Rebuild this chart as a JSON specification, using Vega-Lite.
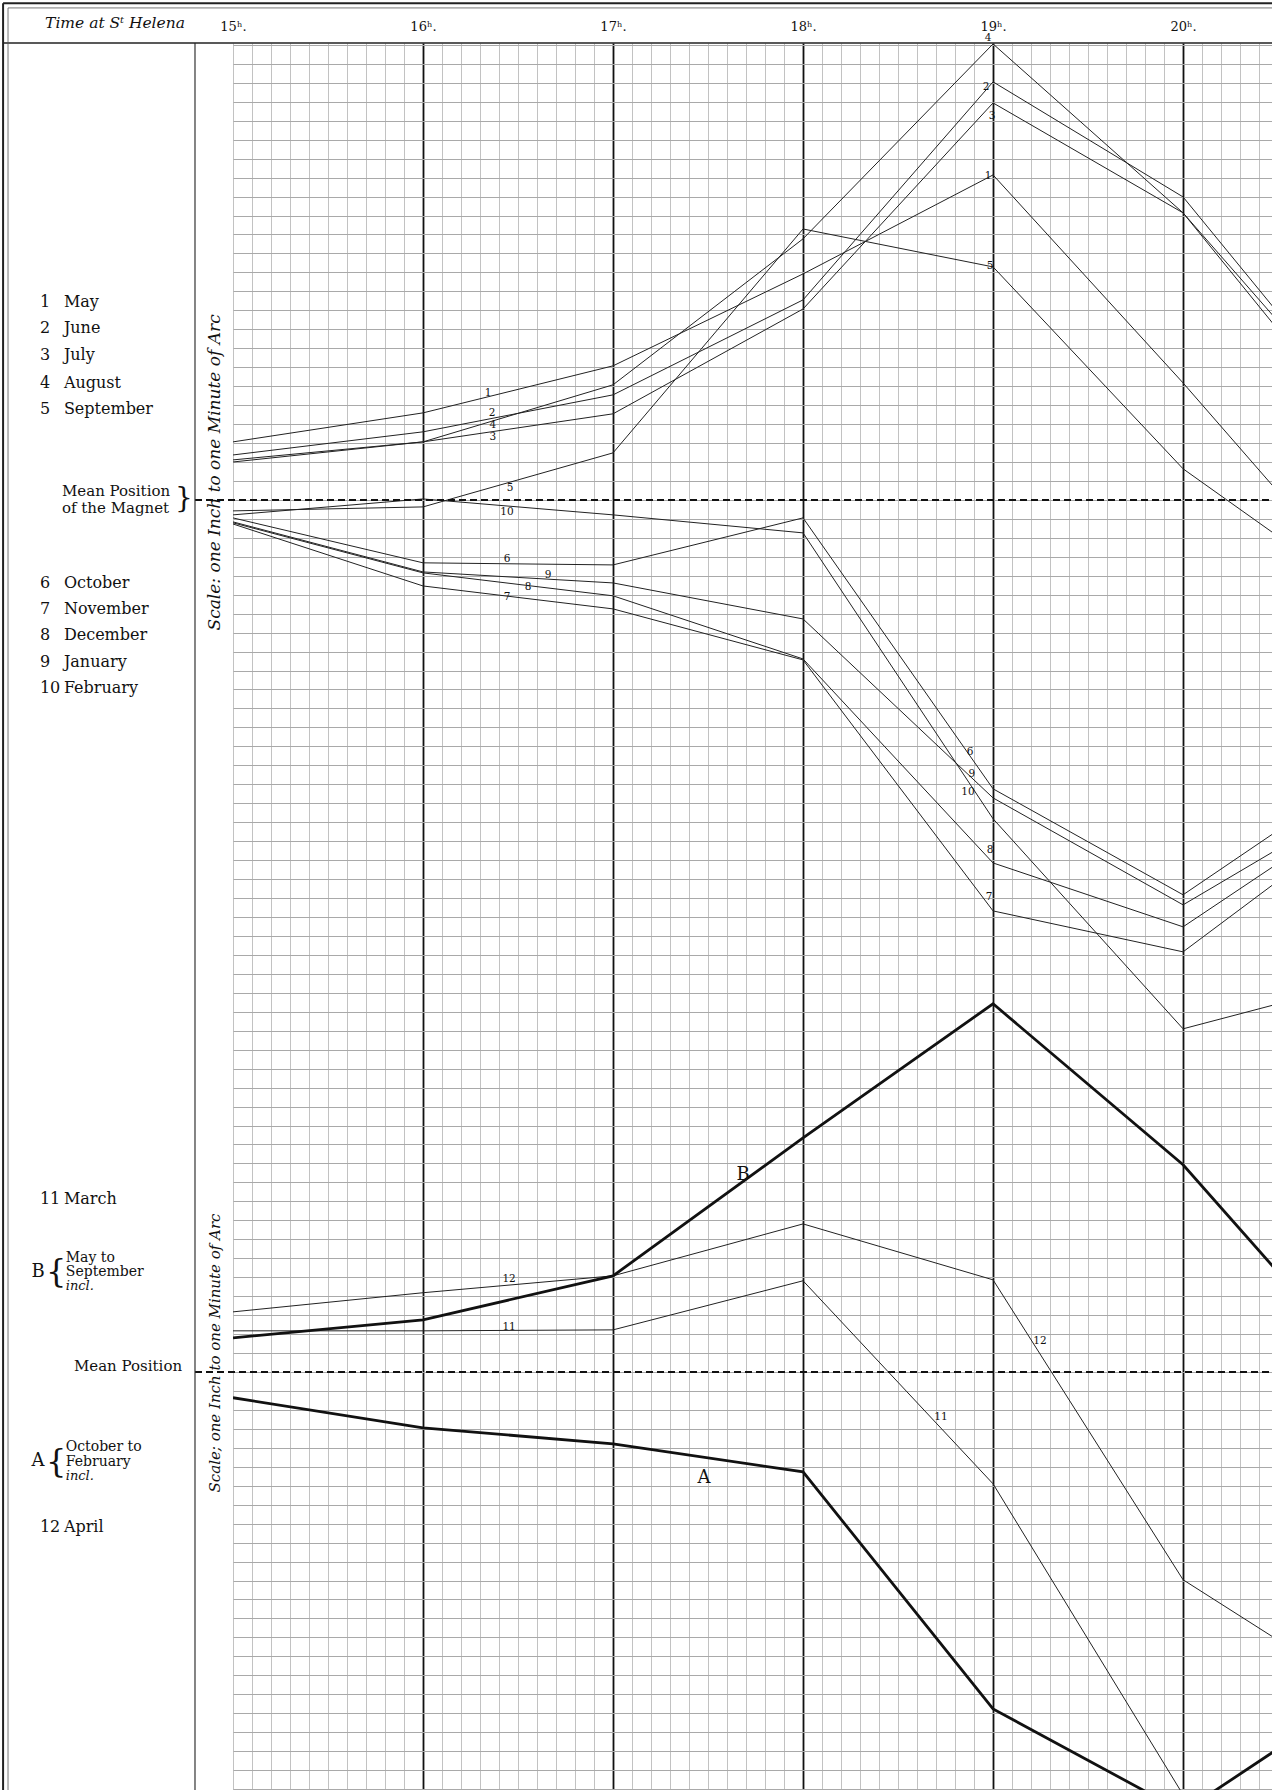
{
  "$schema": "https://vega.github.io/schema/vega-lite/v6.json",
  "width": 1039,
  "height": 1747,
  "autosize": {"type": "none"},
  "padding": {"left": 233, "top": 43, "right": 0, "bottom": 0},
  "background": "white",
  "config": {"view": {"stroke": null}, "text": {"font": "DejaVu Serif", "color": "#111111"}},
  "datasets": {
    "readings": [
      {"series": "1", "group": "month", "hour": 15, "dev": 3.06}, {"series": "1", "group": "month", "hour": 16, "dev": 4.59}, {"series": "1", "group": "month", "hour": 17, "dev": 7.07}, {"series": "1", "group": "month", "hour": 18, "dev": 11.92}, {"series": "1", "group": "month", "hour": 19, "dev": 17.14}, {"series": "1", "group": "month", "hour": 20, "dev": 6.17}, {"series": "1", "group": "month", "hour": 21, "dev": -5.33},
      {"series": "2", "group": "month", "hour": 15, "dev": 2.37}, {"series": "2", "group": "month", "hour": 16, "dev": 3.59}, {"series": "2", "group": "month", "hour": 17, "dev": 5.54}, {"series": "2", "group": "month", "hour": 18, "dev": 10.55}, {"series": "2", "group": "month", "hour": 19, "dev": 22.05}, {"series": "2", "group": "month", "hour": 20, "dev": 15.98}, {"series": "2", "group": "month", "hour": 21, "dev": 3.74},
      {"series": "3", "group": "month", "hour": 15, "dev": 2.0}, {"series": "3", "group": "month", "hour": 16, "dev": 3.06}, {"series": "3", "group": "month", "hour": 17, "dev": 4.54}, {"series": "3", "group": "month", "hour": 18, "dev": 10.07}, {"series": "3", "group": "month", "hour": 19, "dev": 20.94}, {"series": "3", "group": "month", "hour": 20, "dev": 15.14}, {"series": "3", "group": "month", "hour": 21, "dev": 3.69},
      {"series": "4", "group": "month", "hour": 15, "dev": 2.11}, {"series": "4", "group": "month", "hour": 16, "dev": 3.06}, {"series": "4", "group": "month", "hour": 17, "dev": 6.07}, {"series": "4", "group": "month", "hour": 18, "dev": 13.77}, {"series": "4", "group": "month", "hour": 19, "dev": 24.05}, {"series": "4", "group": "month", "hour": 20, "dev": 15.14}, {"series": "4", "group": "month", "hour": 21, "dev": 2.8},
      {"series": "5", "group": "month", "hour": 15, "dev": -0.58}, {"series": "5", "group": "month", "hour": 16, "dev": -0.37}, {"series": "5", "group": "month", "hour": 17, "dev": 2.48}, {"series": "5", "group": "month", "hour": 18, "dev": 14.29}, {"series": "5", "group": "month", "hour": 19, "dev": 12.29}, {"series": "5", "group": "month", "hour": 20, "dev": 1.64}, {"series": "5", "group": "month", "hour": 21, "dev": -5.49},
      {"series": "6", "group": "month", "hour": 15, "dev": -0.95}, {"series": "6", "group": "month", "hour": 16, "dev": -3.32}, {"series": "6", "group": "month", "hour": 17, "dev": -3.43}, {"series": "6", "group": "month", "hour": 18, "dev": -0.95}, {"series": "6", "group": "month", "hour": 19, "dev": -15.24}, {"series": "6", "group": "month", "hour": 20, "dev": -20.83}, {"series": "6", "group": "month", "hour": 21, "dev": -14.03},
      {"series": "7", "group": "month", "hour": 15, "dev": -1.27}, {"series": "7", "group": "month", "hour": 16, "dev": -4.54}, {"series": "7", "group": "month", "hour": 17, "dev": -5.75}, {"series": "7", "group": "month", "hour": 18, "dev": -8.44}, {"series": "7", "group": "month", "hour": 19, "dev": -21.68}, {"series": "7", "group": "month", "hour": 20, "dev": -23.84}, {"series": "7", "group": "month", "hour": 21, "dev": -16.35},
      {"series": "8", "group": "month", "hour": 15, "dev": -1.21}, {"series": "8", "group": "month", "hour": 16, "dev": -3.85}, {"series": "8", "group": "month", "hour": 17, "dev": -5.06}, {"series": "8", "group": "month", "hour": 18, "dev": -8.39}, {"series": "8", "group": "month", "hour": 19, "dev": -19.15}, {"series": "8", "group": "month", "hour": 20, "dev": -22.52}, {"series": "8", "group": "month", "hour": 21, "dev": -15.82},
      {"series": "9", "group": "month", "hour": 15, "dev": -1.16}, {"series": "9", "group": "month", "hour": 16, "dev": -3.8}, {"series": "9", "group": "month", "hour": 17, "dev": -4.38}, {"series": "9", "group": "month", "hour": 18, "dev": -6.28}, {"series": "9", "group": "month", "hour": 19, "dev": -15.72}, {"series": "9", "group": "month", "hour": 20, "dev": -21.36}, {"series": "9", "group": "month", "hour": 21, "dev": -15.45},
      {"series": "10", "group": "month", "hour": 15, "dev": -0.79}, {"series": "10", "group": "month", "hour": 16, "dev": 0.05}, {"series": "10", "group": "month", "hour": 17, "dev": -0.79}, {"series": "10", "group": "month", "hour": 18, "dev": -1.74}, {"series": "10", "group": "month", "hour": 19, "dev": -16.82}, {"series": "10", "group": "month", "hour": 20, "dev": -27.9}, {"series": "10", "group": "month", "hour": 21, "dev": -25.26},
      {"series": "11", "group": "month", "hour": 15, "dev": -43.83}, {"series": "11", "group": "month", "hour": 16, "dev": -43.83}, {"series": "11", "group": "month", "hour": 17, "dev": -43.78}, {"series": "11", "group": "month", "hour": 18, "dev": -41.19}, {"series": "11", "group": "month", "hour": 19, "dev": -51.9}, {"series": "11", "group": "month", "hour": 20, "dev": -68.3},
      {"series": "12", "group": "month", "hour": 15, "dev": -42.83}, {"series": "12", "group": "month", "hour": 16, "dev": -41.82}, {"series": "12", "group": "month", "hour": 17, "dev": -40.93}, {"series": "12", "group": "month", "hour": 18, "dev": -38.19}, {"series": "12", "group": "month", "hour": 19, "dev": -41.14}, {"series": "12", "group": "month", "hour": 20, "dev": -56.96}, {"series": "12", "group": "month", "hour": 21, "dev": -63.34},
      {"series": "B", "group": "season", "hour": 15, "dev": -44.2}, {"series": "B", "group": "season", "hour": 16, "dev": -43.25}, {"series": "B", "group": "season", "hour": 17, "dev": -40.93}, {"series": "B", "group": "season", "hour": 18, "dev": -33.65}, {"series": "B", "group": "season", "hour": 19, "dev": -26.58}, {"series": "B", "group": "season", "hour": 20, "dev": -35.07}, {"series": "B", "group": "season", "hour": 21, "dev": -46.41},
      {"series": "A", "group": "season", "hour": 15, "dev": -47.36}, {"series": "A", "group": "season", "hour": 16, "dev": -48.95}, {"series": "A", "group": "season", "hour": 17, "dev": -49.79}, {"series": "A", "group": "season", "hour": 18, "dev": -51.27}, {"series": "A", "group": "season", "hour": 19, "dev": -63.77}, {"series": "A", "group": "season", "hour": 20, "dev": -69.2}, {"series": "A", "group": "season", "hour": 21, "dev": -62.55}
    ],
    "means": [{"name": "Mean Position of the Magnet", "dev": 0}, {"name": "Mean Position", "dev": -46}],
    "legend": [
      {"num": "1", "name": "May", "dev": 10.44}, {"num": "2", "name": "June", "dev": 9.07}, {"num": "3", "name": "July", "dev": 7.62}, {"num": "4", "name": "August", "dev": 6.17}, {"num": "5", "name": "September", "dev": 4.8},
      {"num": "6", "name": "October", "dev": -4.38}, {"num": "7", "name": "November", "dev": -5.75}, {"num": "8", "name": "December", "dev": -7.12}, {"num": "9", "name": "January", "dev": -8.54}, {"num": "10", "name": "February", "dev": -9.92},
      {"num": "11", "name": "March", "dev": -36.87}, {"num": "12", "name": "April", "dev": -54.17}
    ],
    "linelabels": [
      {"text": "1", "hour": 16.342, "dev": 5.64}, {"text": "2", "hour": 16.363, "dev": 4.59}, {"text": "4", "hour": 16.368, "dev": 3.96}, {"text": "3", "hour": 16.368, "dev": 3.32}, {"text": "5", "hour": 16.458, "dev": 0.63}, {"text": "10", "hour": 16.442, "dev": -0.63},
      {"text": "6", "hour": 16.442, "dev": -3.11}, {"text": "9", "hour": 16.658, "dev": -3.96}, {"text": "8", "hour": 16.553, "dev": -4.59}, {"text": "7", "hour": 16.442, "dev": -5.12},
      {"text": "4", "hour": 18.974, "dev": 24.37}, {"text": "2", "hour": 18.963, "dev": 21.78}, {"text": "3", "hour": 18.995, "dev": 20.25}, {"text": "1", "hour": 18.974, "dev": 17.09}, {"text": "5", "hour": 18.984, "dev": 12.34},
      {"text": "6", "hour": 18.879, "dev": -13.29}, {"text": "9", "hour": 18.889, "dev": -14.45}, {"text": "10", "hour": 18.868, "dev": -15.4}, {"text": "8", "hour": 18.984, "dev": -18.46}, {"text": "7", "hour": 18.979, "dev": -20.94},
      {"text": "12", "hour": 16.453, "dev": -41.09}, {"text": "11", "hour": 16.453, "dev": -43.62}, {"text": "12", "hour": 19.247, "dev": -44.36}, {"text": "11", "hour": 18.726, "dev": -48.36}
    ],
    "biglabels": [
      {"text": "B", "hour": 17.684, "dev": -35.6}, {"text": "A", "hour": 17.479, "dev": -51.58},
      {"text": "B", "hour": 13.974, "dev": -40.72}, {"text": "A", "hour": 13.974, "dev": -50.69}
    ],
    "notes": [
      {"text": "Mean Position", "dev": 0.47}, {"text": "of the Magnet", "dev": -0.42}
    ],
    "groupnotes": [
      {"text": "May to", "dev": -39.98}, {"text": "September", "dev": -40.72},
      {"text": "October to", "dev": -49.95}, {"text": "February", "dev": -50.74}
    ],
    "inclnotes": [{"text": "incl.", "dev": -41.45}, {"text": "incl.", "dev": -51.5}],
    "braces": [{"text": "{", "dev": -40.72}, {"text": "{", "dev": -50.74}],
    "scaleupper": [{"text": "Scale: one Inch to one Minute of Arc", "dev": 1.45}],
    "scalelower": [{"text": "Scale; one Inch to one Minute of Arc", "dev": -45.0}]
  },
  "layer": [
    {
      "data": {"name": "readings"},
      "transform": [{"filter": "datum.group == 'month'"}],
      "mark": {"type": "line", "color": "#222222", "strokeWidth": 1, "clip": true},
      "encoding": {
        "x": {
          "field": "hour", "type": "quantitative",
          "scale": {"domain": [15, 20.468], "nice": false, "zero": false},
          "axis": {
            "orient": "top", "title": null, "ticks": false, "domain": false, "tickCount": 1000,
            "values": [15, 15.1, 15.2, 15.3, 15.4, 15.5, 15.6, 15.7, 15.8, 15.9, 16, 16.1, 16.2, 16.3, 16.4, 16.5, 16.6, 16.7, 16.8, 16.9, 17, 17.1, 17.2, 17.3, 17.4, 17.5, 17.6, 17.7, 17.8, 17.9, 18, 18.1, 18.2, 18.3, 18.4, 18.5, 18.6, 18.7, 18.8, 18.9, 19, 19.1, 19.2, 19.3, 19.4, 19.5, 19.6, 19.7, 19.8, 19.9, 20, 20.1, 20.2, 20.3, 20.4],
            "grid": true,
            "gridColor": {"condition": {"test": "abs(datum.value - round(datum.value)) < 0.01 && datum.value > 15.5", "value": "#111111"}, "value": "#c2c2c2"},
            "gridWidth": {"condition": {"test": "abs(datum.value - round(datum.value)) < 0.01 && datum.value > 15.5", "value": 1.8}, "value": 1},
            "labelExpr": "abs(datum.value - round(datum.value)) < 0.01 ? round(datum.value) + 'ʰ.' : ''",
            "labelOverlap": false, "labelFlush": false, "labelFont": "DejaVu Serif", "labelFontSize": 13, "labelColor": "#111111", "labelPadding": 10
          }
        },
        "y": {
          "field": "dev", "type": "quantitative",
          "scale": {"domain": [-68.05, 24.1], "nice": false, "zero": false},
          "axis": {
            "title": null, "labels": false, "ticks": false, "domain": false, "grid": true, "tickCount": 1000,
            "gridColor": "#a9a9a9", "gridWidth": 1,
            "values": [-68, -67, -66, -65, -64, -63, -62, -61, -60, -59, -58, -57, -56, -55, -54, -53, -52, -51, -50, -49, -48, -47, -46, -45, -44, -43, -42, -41, -40, -39, -38, -37, -36, -35, -34, -33, -32, -31, -30, -29, -28, -27, -26, -25, -24, -23, -22, -21, -20, -19, -18, -17, -16, -15, -14, -13, -12, -11, -10, -9, -8, -7, -6, -5, -4, -3, -2, -1, 0, 1, 2, 3, 4, 5, 6, 7, 8, 9, 10, 11, 12, 13, 14, 15, 16, 17, 18, 19, 20, 21, 22, 23, 24]
          }
        },
        "detail": {"field": "series"}
      }
    },
    {
      "data": {"name": "readings"},
      "transform": [{"filter": "datum.group == 'season'"}],
      "mark": {"type": "line", "color": "#111111", "strokeWidth": 2.8, "clip": true},
      "encoding": {
        "x": {"field": "hour", "type": "quantitative", "scale": {"domain": [15, 20.468], "nice": false, "zero": false}},
        "y": {"field": "dev", "type": "quantitative", "scale": {"domain": [-68.05, 24.1], "nice": false, "zero": false}},
        "detail": {"field": "series"}
      }
    },
    {
      "data": {"name": "means"},
      "mark": {"type": "rule", "color": "#111111", "strokeWidth": 2, "strokeDash": [7, 4]},
      "encoding": {
        "y": {"field": "dev", "type": "quantitative", "scale": {"domain": [-68.05, 24.1], "nice": false, "zero": false}},
        "x": {"datum": 14.8, "type": "quantitative", "scale": {"domain": [15, 20.468], "nice": false, "zero": false}},
        "x2": {"datum": 20.468}
      }
    },
    {
      "data": {"values": [{}]},
      "mark": {"type": "rule", "color": "#333333", "strokeWidth": 1.2},
      "encoding": {
        "x": {"datum": 14.8, "type": "quantitative", "scale": {"domain": [15, 20.468], "nice": false, "zero": false}},
        "y": {"datum": 24.1, "type": "quantitative", "scale": {"domain": [-68.05, 24.1], "nice": false, "zero": false}},
        "y2": {"datum": -68.05}
      }
    },
    {
      "data": {"values": [{}]},
      "mark": {"type": "rule", "color": "#222222", "strokeWidth": 1.6},
      "encoding": {
        "x": {"datum": 13.79, "type": "quantitative", "scale": {"domain": [15, 20.468], "nice": false, "zero": false}},
        "x2": {"datum": 20.468},
        "y": {"datum": 24.1, "type": "quantitative", "scale": {"domain": [-68.05, 24.1], "nice": false, "zero": false}}
      }
    },
    {
      "data": {"values": [{}]},
      "mark": {"type": "rule", "color": "#222222", "strokeWidth": 2},
      "encoding": {
        "x": {"datum": 13.79, "type": "quantitative", "scale": {"domain": [15, 20.468], "nice": false, "zero": false}},
        "x2": {"datum": 20.468},
        "y": {"datum": 26.2, "type": "quantitative", "scale": {"domain": [-68.05, 24.1], "nice": false, "zero": false}}
      }
    },
    {
      "data": {"values": [{}]},
      "mark": {"type": "rule", "color": "#555555", "strokeWidth": 0.8},
      "encoding": {
        "x": {"datum": 13.816, "type": "quantitative", "scale": {"domain": [15, 20.468], "nice": false, "zero": false}},
        "x2": {"datum": 20.468},
        "y": {"datum": 25.95, "type": "quantitative", "scale": {"domain": [-68.05, 24.1], "nice": false, "zero": false}}
      }
    },
    {
      "data": {"values": [{}]},
      "mark": {"type": "rule", "color": "#222222", "strokeWidth": 2},
      "encoding": {
        "x": {"datum": 13.79, "type": "quantitative", "scale": {"domain": [15, 20.468], "nice": false, "zero": false}},
        "y": {"datum": 26.2, "type": "quantitative", "scale": {"domain": [-68.05, 24.1], "nice": false, "zero": false}},
        "y2": {"datum": -68.05}
      }
    },
    {
      "data": {"values": [{}]},
      "mark": {"type": "rule", "color": "#555555", "strokeWidth": 0.8},
      "encoding": {
        "x": {"datum": 13.816, "type": "quantitative", "scale": {"domain": [15, 20.468], "nice": false, "zero": false}},
        "y": {"datum": 25.95, "type": "quantitative", "scale": {"domain": [-68.05, 24.1], "nice": false, "zero": false}},
        "y2": {"datum": -68.05}
      }
    },
    {
      "data": {"values": [{}]},
      "mark": {"type": "text", "text": "Time at Sᵗ Helena", "fontStyle": "italic", "fontSize": 15.5, "align": "center", "baseline": "middle"},
      "encoding": {
        "x": {"datum": 14.379, "type": "quantitative", "scale": {"domain": [15, 20.468], "nice": false, "zero": false}},
        "y": {"datum": 25.15, "type": "quantitative", "scale": {"domain": [-68.05, 24.1], "nice": false, "zero": false}}
      }
    },
    {
      "data": {"name": "legend"},
      "mark": {"type": "text", "fontSize": 16, "align": "left", "baseline": "middle"},
      "encoding": {
        "x": {"datum": 13.984, "type": "quantitative", "scale": {"domain": [15, 20.468], "nice": false, "zero": false}},
        "y": {"field": "dev", "type": "quantitative", "scale": {"domain": [-68.05, 24.1], "nice": false, "zero": false}},
        "text": {"field": "num"}
      }
    },
    {
      "data": {"name": "legend"},
      "mark": {"type": "text", "fontSize": 16, "align": "left", "baseline": "middle"},
      "encoding": {
        "x": {"datum": 14.11, "type": "quantitative", "scale": {"domain": [15, 20.468], "nice": false, "zero": false}},
        "y": {"field": "dev", "type": "quantitative", "scale": {"domain": [-68.05, 24.1], "nice": false, "zero": false}},
        "text": {"field": "name"}
      }
    },
    {
      "data": {"name": "notes"},
      "mark": {"type": "text", "fontSize": 15, "align": "left", "baseline": "middle"},
      "encoding": {
        "x": {"datum": 14.1, "type": "quantitative", "scale": {"domain": [15, 20.468], "nice": false, "zero": false}},
        "y": {"field": "dev", "type": "quantitative", "scale": {"domain": [-68.05, 24.1], "nice": false, "zero": false}},
        "text": {"field": "text"}
      }
    },
    {
      "data": {"name": "groupnotes"},
      "mark": {"type": "text", "fontSize": 14, "align": "left", "baseline": "middle"},
      "encoding": {
        "x": {"datum": 14.12, "type": "quantitative", "scale": {"domain": [15, 20.468], "nice": false, "zero": false}},
        "y": {"field": "dev", "type": "quantitative", "scale": {"domain": [-68.05, 24.1], "nice": false, "zero": false}},
        "text": {"field": "text"}
      }
    },
    {
      "data": {"name": "inclnotes"},
      "mark": {"type": "text", "fontSize": 13, "fontStyle": "italic", "align": "left", "baseline": "middle"},
      "encoding": {
        "x": {"datum": 14.12, "type": "quantitative", "scale": {"domain": [15, 20.468], "nice": false, "zero": false}},
        "y": {"field": "dev", "type": "quantitative", "scale": {"domain": [-68.05, 24.1], "nice": false, "zero": false}},
        "text": {"field": "text"}
      }
    },
    {
      "data": {"name": "braces"},
      "mark": {"type": "text", "fontSize": 32, "font": "DejaVu Serif", "align": "center", "baseline": "middle"},
      "encoding": {
        "x": {"datum": 14.069, "type": "quantitative", "scale": {"domain": [15, 20.468], "nice": false, "zero": false}},
        "y": {"field": "dev", "type": "quantitative", "scale": {"domain": [-68.05, 24.1], "nice": false, "zero": false}},
        "text": {"field": "text"}
      }
    },
    {
      "data": {"values": [{}]},
      "mark": {"type": "text", "text": "}", "fontSize": 28, "align": "center", "baseline": "middle"},
      "encoding": {
        "x": {"datum": 14.742, "type": "quantitative", "scale": {"domain": [15, 20.468], "nice": false, "zero": false}},
        "y": {"datum": 0.03, "type": "quantitative", "scale": {"domain": [-68.05, 24.1], "nice": false, "zero": false}}
      }
    },
    {
      "data": {"values": [{}]},
      "mark": {"type": "text", "text": "Mean Position", "fontSize": 15, "align": "right", "baseline": "middle"},
      "encoding": {
        "x": {"datum": 14.732, "type": "quantitative", "scale": {"domain": [15, 20.468], "nice": false, "zero": false}},
        "y": {"datum": -45.7, "type": "quantitative", "scale": {"domain": [-68.05, 24.1], "nice": false, "zero": false}}
      }
    },
    {
      "data": {"name": "scaleupper"},
      "mark": {"type": "text", "fontSize": 17, "fontStyle": "italic", "angle": 270, "align": "center", "baseline": "middle"},
      "encoding": {
        "x": {"datum": 14.905, "type": "quantitative", "scale": {"domain": [15, 20.468], "nice": false, "zero": false}},
        "y": {"field": "dev", "type": "quantitative", "scale": {"domain": [-68.05, 24.1], "nice": false, "zero": false}},
        "text": {"field": "text"}
      }
    },
    {
      "data": {"name": "scalelower"},
      "mark": {"type": "text", "fontSize": 15, "fontStyle": "italic", "angle": 270, "align": "center", "baseline": "middle"},
      "encoding": {
        "x": {"datum": 14.905, "type": "quantitative", "scale": {"domain": [15, 20.468], "nice": false, "zero": false}},
        "y": {"field": "dev", "type": "quantitative", "scale": {"domain": [-68.05, 24.1], "nice": false, "zero": false}},
        "text": {"field": "text"}
      }
    },
    {
      "data": {"name": "linelabels"},
      "mark": {"type": "text", "fontSize": 10.5, "align": "center", "baseline": "middle"},
      "encoding": {
        "x": {"field": "hour", "type": "quantitative", "scale": {"domain": [15, 20.468], "nice": false, "zero": false}},
        "y": {"field": "dev", "type": "quantitative", "scale": {"domain": [-68.05, 24.1], "nice": false, "zero": false}},
        "text": {"field": "text"}
      }
    },
    {
      "data": {"name": "biglabels"},
      "mark": {"type": "text", "fontSize": 18, "align": "center", "baseline": "middle"},
      "encoding": {
        "x": {"field": "hour", "type": "quantitative", "scale": {"domain": [15, 20.468], "nice": false, "zero": false}},
        "y": {"field": "dev", "type": "quantitative", "scale": {"domain": [-68.05, 24.1], "nice": false, "zero": false}},
        "text": {"field": "text"}
      }
    }
  ]
}
